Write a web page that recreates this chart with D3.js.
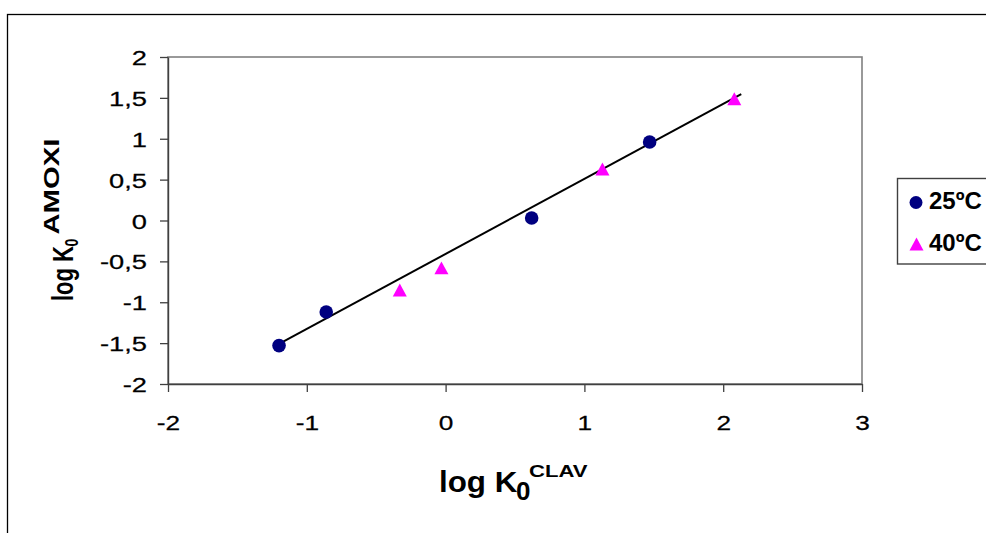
<!DOCTYPE html>
<html>
<head>
<meta charset="utf-8">
<script src="https://cdn.jsdelivr.net/npm/d3@7"></script>
<style>
  html, body { margin: 0; padding: 0; background: #fff; }
  svg { display: block; font-family: "Liberation Sans", Arial, sans-serif; }
</style>
</head>
<body>
<svg id="chart" width="986" height="533"></svg>
<script>
// ---- data ----
const series25Name = "25ºC";
const series25X = [-1.20, -0.86, 0.62, 1.47];
const series25Y = [-1.53, -1.12, 0.03, 0.96];

const series40Name = "40ºC";
const series40X = [-0.33, -0.03, 1.13, 2.08];
const series40Y = [-0.85, -0.58, 0.63, 1.49];

const trendX = [-1.20, 2.13];
const trendY = [-1.51, 1.545];

const xTicks = [-2, -1, 0, 1, 2, 3];
const yTicks = [-2, -1.5, -1, -0.5, 0, 0.5, 1, 1.5, 2];

// ---- layout ----
const svg = d3.select("#chart");
const plot = { left: 168, right: 862, top: 57, bottom: 384 };

const x = d3.scaleLinear().domain([-2, 3]).range([plot.left, plot.right]);
const y = d3.scaleLinear().domain([-2, 2]).range([plot.bottom, plot.top]);

// outer chart frame (extends past the window, like the reference crop)
svg.append("rect")
  .attr("x", 7.5).attr("y", 14.5)
  .attr("width", 1200).attr("height", 800)
  .attr("fill", "none").attr("stroke", "#000").attr("stroke-width", 1.3);

// plot-area border
svg.append("rect")
  .attr("x", plot.left).attr("y", plot.top)
  .attr("width", plot.right - plot.left).attr("height", plot.bottom - plot.top)
  .attr("fill", "none").attr("stroke", "#808080").attr("stroke-width", 1.6);

const fmt = d => String(d).replace(".", ",");

// y axis
const gy = svg.append("g")
  .attr("transform", `translate(${plot.left},0)`)
  .call(d3.axisLeft(y).tickValues(yTicks).tickSize(8).tickSizeOuter(0).tickFormat(fmt));
gy.selectAll("text")
  .attr("x", 0).attr("dy", "0.36em")
  .attr("text-anchor", "end")
  .attr("transform", "translate(-21,0) scale(1.3,1)")
  .attr("font-size", 21).attr("font-family", "Liberation Sans, Arial, sans-serif")
  .attr("fill", "#000").attr("stroke", "#000").attr("stroke-width", 0.25);

// x axis
const gx = svg.append("g")
  .attr("transform", `translate(0,${plot.bottom})`)
  .call(d3.axisBottom(x).tickValues(xTicks).tickSize(8).tickSizeOuter(0).tickFormat(fmt));
gx.selectAll("text")
  .attr("y", 0).attr("dy", 0)
  .attr("text-anchor", "middle")
  .attr("transform", "translate(0,46) scale(1.25,1)")
  .attr("font-size", 21).attr("font-family", "Liberation Sans, Arial, sans-serif")
  .attr("fill", "#000").attr("stroke", "#000").attr("stroke-width", 0.25);

[gx, gy].forEach(g => {
  g.select(".domain").attr("stroke", "#404040").attr("stroke-width", 1.4);
  g.selectAll(".tick line").attr("stroke", "#404040").attr("stroke-width", 1.3);
});

// trend line
svg.append("path")
  .datum(trendX.map((d, i) => [d, trendY[i]]))
  .attr("fill", "none").attr("stroke", "#000").attr("stroke-width", 2)
  .attr("d", d3.line().x(d => x(d[0])).y(d => y(d[1])));

// box-centred triangle symbol
const triBox = {
  draw(ctx, size) {
    const w = Math.sqrt(size) * 0.76, h = Math.sqrt(size) * 0.70;
    ctx.moveTo(0, -h); ctx.lineTo(w, h); ctx.lineTo(-w, h); ctx.closePath();
  }
};

// series 25 (circles)
svg.append("g").selectAll("circle")
  .data(series25X.map((d, i) => [d, series25Y[i]]))
  .join("circle")
  .attr("cx", d => x(d[0])).attr("cy", d => y(d[1]))
  .attr("r", 6.8).attr("fill", "#000080");

// series 40 (triangles)
svg.append("g").selectAll("path")
  .data(series40X.map((d, i) => [d, series40Y[i]]))
  .join("path")
  .attr("transform", d => `translate(${x(d[0])},${y(d[1])})`)
  .attr("d", d3.symbol().type(triBox).size(85))
  .attr("fill", "#FF00FF");

// axis titles
function piece(parent, txt, px, py, fs, sx, sy, rot) {
  return parent.append("text")
    .attr("transform", `translate(${px},${py})` + (rot ? " rotate(-90)" : "") + ` scale(${sx},${sy})`)
    .attr("font-size", fs).attr("font-weight", "bold").attr("fill", "#000")
    .text(txt);
}
const xt = svg.append("g");
piece(xt, "log K", 439, 492, 29, 1.08, 1, false);
piece(xt, "0", 516, 500, 26, 1.0, 1, false);
piece(xt, "CLAV", 529, 477, 17, 1.3, 1, false);

const yt = svg.append("g");
piece(yt, "log K", 73, 301, 22, 1.0, 1.37, true);
piece(yt, "0", 78, 246.5, 14, 1.0, 1.37, true);
piece(yt, "AMOXI", 59, 234.5, 17, 1.72, 1.3, true);

// legend
const lg = svg.append("g");
lg.append("rect")
  .attr("x", 897.5).attr("y", 178.5).attr("width", 200).attr("height", 85.5)
  .attr("fill", "#fff").attr("stroke", "#404040").attr("stroke-width", 1.4);
lg.append("circle").attr("cx", 916).attr("cy", 202.5).attr("r", 6.5).attr("fill", "#000080");
lg.append("text").attr("x", 929).attr("y", 209).attr("font-size", 24).attr("font-weight", "bold").text(series25Name);
lg.append("path")
  .attr("transform", "translate(916.5,244)")
  .attr("d", d3.symbol().type(triBox).size(85))
  .attr("fill", "#FF00FF");
lg.append("text").attr("x", 929).attr("y", 251).attr("font-size", 24).attr("font-weight", "bold").text(series40Name);
</script>
</body>
</html>
